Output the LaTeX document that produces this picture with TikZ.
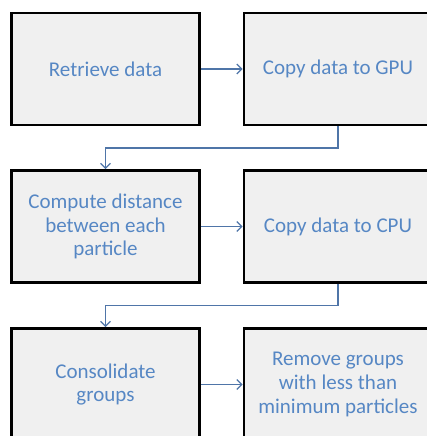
\documentclass[tikz,border=0pt]{standalone}
\usepackage{fontspec}
\setmainfont{Carlito}
\usetikzlibrary{arrows.meta}
\definecolor{boxfill}{RGB}{240,240,240}
\definecolor{flowline}{RGB}{79,117,168}
\definecolor{steptext}{RGB}{86,135,196}
\begin{document}
\begin{tikzpicture}[x=1pt,y=-1pt,
  stepbox/.style={draw=black, line width=2.8pt, fill=boxfill,
    minimum width=188pt, minimum height=112pt, inner sep=0pt,
    align=center, text=steptext, font=\fontsize{21}{23.8}\selectfont},
  flow/.style={draw=flowline, line width=1.2pt,
    -{Straight Barb[length=5pt,width=10pt]}}]
\useasboundingbox (0,0) rectangle (427,436);
\clip (0,0) rectangle (427,436);

% pipeline steps
\node[stepbox] (retrieve) at (105.5,69)    {Retrieve data};
\node[stepbox] (gpu)      at (338,69)      {Copy data to GPU};
\node[stepbox] (compute)  at (105.5,226.5) {Compute distance\\between each\\particle};
\node[stepbox] (cpu)      at (338,226.5)   {Copy data to CPU};
\node[stepbox] (consol)   at (105.5,384.5) {Consolidate\\groups};
\node[stepbox] (remove)   at (338,384.5)   {Remove groups\\with less than\\minimum particles};

% connectors
\draw[flow] (retrieve.east) -- (gpu.west);
\draw[flow] (gpu.south) -- ++(0,21.5) -| (compute.north);
\draw[flow] (compute.east) -- (cpu.west);
\draw[flow] (cpu.south) -- ++(0,21.5) -| (consol.north);
\draw[flow] (consol.east) -- (remove.west);
\end{tikzpicture}
\end{document}
